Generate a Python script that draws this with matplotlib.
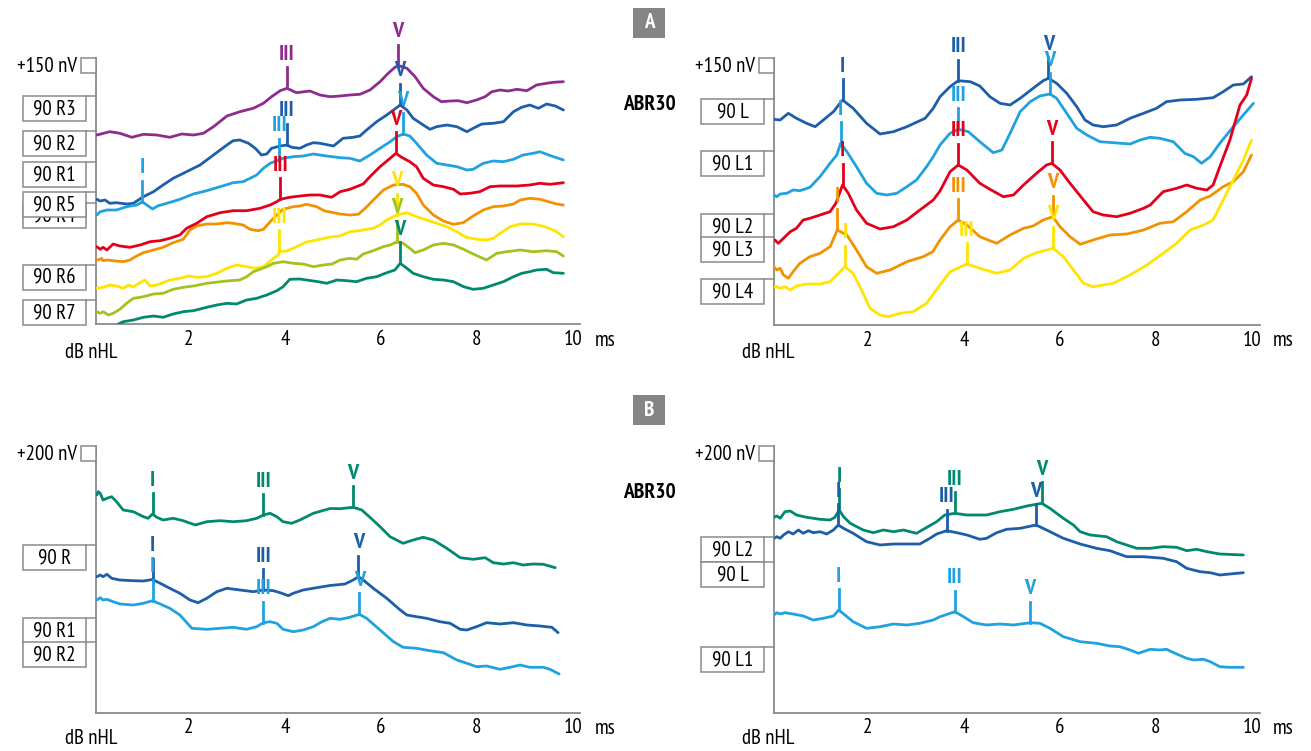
import numpy as np
import matplotlib
matplotlib.use("Agg")
import matplotlib.pyplot as plt
from matplotlib.patches import Rectangle
from matplotlib.transforms import blended_transform_factory

plt.rcParams['font.family'] = ['PT Sans Narrow', 'DejaVu Sans']

# ---------------------------------------------------------------- colours
PURPLE = '#8e2c8e'
DBLUE = '#1d5ea8'
LBLUE = '#1fa2df'
RED = '#e2001a'
ORANGE = '#f39200'
YELLOW = '#ffe400'
YGREEN = '#a2c31d'
TEAL = '#00896f'

# ================================================================ DATA
# latency in ms, amplitude (display offset included) in nV
# ---------------- Panel A, right ear
aR3_t = [0.08, 0.35, 0.56, 0.81, 1.05, 1.33, 1.60, 1.85, 2.09, 2.30, 2.51, 2.79, 3.06, 3.34, 3.55, 3.72, 3.90, 4.04, 4.24, 4.52,
         4.73, 4.94, 5.15, 5.35, 5.56, 5.77, 5.98, 6.15, 6.29, 6.36, 6.54, 6.71, 6.88, 7.09, 7.26, 7.44, 7.61, 7.79, 7.99, 8.17,
         8.31, 8.48, 8.65, 8.83, 9.04, 9.24, 9.45, 9.59, 9.80]
aR3_v = [1890, 1923, 1907, 1867, 1897, 1890, 1867, 1900, 1890, 1907, 1973, 2080, 2123, 2157, 2207, 2273, 2333, 2357, 2313, 2330,
         2290, 2273, 2280, 2290, 2297, 2340, 2423, 2507, 2567, 2585, 2557, 2473, 2357, 2273, 2223, 2230, 2233, 2213, 2240, 2273,
         2323, 2340, 2330, 2347, 2333, 2390, 2407, 2417, 2423]

aR2_t = [0.08, 0.15, 0.25, 0.35, 0.49, 0.70, 0.84, 1.05, 1.26, 1.46, 1.67, 1.95, 2.23, 2.51, 2.79, 2.92, 3.06, 3.24, 3.38, 3.51,
         3.62, 3.72, 3.90, 4.04, 4.14, 4.31, 4.45, 4.59, 4.73, 5.01, 5.21, 5.42, 5.56, 5.70, 5.91, 6.12, 6.26, 6.40, 6.54, 6.67,
         6.88, 7.02, 7.16, 7.37, 7.58, 7.79, 7.92, 8.10, 8.34, 8.55, 8.76, 8.93, 9.10, 9.28, 9.45, 9.63, 9.80]
aR2_v = [1247, 1230, 1240, 1207, 1213, 1200, 1207, 1273, 1323, 1390, 1457, 1523, 1590, 1690, 1790, 1833, 1840, 1807, 1757, 1690,
         1700, 1757, 1780, 1790, 1767, 1757, 1790, 1813, 1807, 1780, 1857, 1867, 1880, 1940, 2023, 2090, 2140, 2190, 2140, 2057,
         1990, 1947, 1973, 1990, 1973, 1923, 1957, 2000, 2007, 2023, 2123, 2167, 2190, 2157, 2200, 2180, 2140]

aR1_t = [0.08, 0.15, 0.29, 0.49, 0.70, 0.91, 1.03, 1.12, 1.24, 1.36, 1.54, 1.81, 2.09, 2.37, 2.65, 2.92, 3.13, 3.27, 3.41, 3.55,
         3.69, 3.83, 3.96, 4.17, 4.38, 4.59, 4.87, 5.15, 5.35, 5.56, 5.77, 5.98, 6.19, 6.33, 6.46, 6.60, 6.74, 6.95, 7.16, 7.37,
         7.58, 7.79, 7.92, 8.13, 8.34, 8.55, 8.76, 8.96, 9.17, 9.31, 9.49, 9.66, 9.80]
aR1_v = [1090, 1123, 1140, 1140, 1173, 1190, 1223, 1190, 1150, 1183, 1207, 1247, 1300, 1333, 1373, 1413, 1423, 1457, 1490, 1557,
         1607, 1633, 1657, 1673, 1680, 1700, 1680, 1663, 1657, 1630, 1690, 1757, 1823, 1873, 1900, 1880, 1807, 1690, 1607, 1590,
         1573, 1540, 1547, 1607, 1630, 1623, 1647, 1690, 1707, 1723, 1690, 1663, 1640]

aR5_t = [0.08, 0.15, 0.21, 0.29, 0.42, 0.56, 0.77, 0.98, 1.19, 1.40, 1.60, 1.81, 1.95, 2.16, 2.37, 2.65, 2.92, 3.20, 3.48, 3.69,
         3.83, 3.90, 4.10, 4.31, 4.52, 4.73, 4.97, 5.15, 5.35, 5.63, 5.77, 5.98, 6.19, 6.31, 6.43, 6.60, 6.74, 6.88, 7.09, 7.30,
         7.51, 7.65, 7.85, 8.06, 8.27, 8.48, 8.83, 9.10, 9.31, 9.52, 9.80]
aR5_v = [773, 747, 767, 740, 800, 780, 767, 790, 823, 833, 857, 890, 957, 1007, 1073, 1113, 1133, 1133, 1157, 1190,
         1223, 1247, 1267, 1280, 1290, 1290, 1267, 1323, 1347, 1400, 1473, 1573, 1657, 1707, 1667, 1623, 1573, 1457, 1390, 1373,
         1347, 1300, 1307, 1323, 1373, 1380, 1380, 1390, 1407, 1397, 1413]

aR4_t = [0.08, 0.15, 0.18, 0.21, 0.29, 0.42, 0.63, 0.77, 0.91, 1.05, 1.26, 1.46, 1.67, 1.88, 2.02, 2.16, 2.37, 2.58, 2.79, 2.92,
         3.13, 3.27, 3.44, 3.55, 3.69, 3.83, 3.96, 4.17, 4.31, 4.45, 4.66, 4.83, 5.15, 5.35, 5.53, 5.67, 5.84, 6.05, 6.26, 6.46,
         6.60, 6.74, 6.88, 7.09, 7.30, 7.51, 7.71, 7.92, 8.13, 8.34, 8.55, 8.76, 8.90, 9.10, 9.31, 9.49, 9.66, 9.80]
aR4_v = [640, 647, 657, 633, 640, 633, 623, 640, 680, 713, 740, 767, 813, 847, 940, 980, 1000, 1000, 1013, 1007,
         990, 947, 933, 947, 1023, 1090, 1147, 1173, 1180, 1197, 1173, 1130, 1100, 1090, 1097, 1157, 1240, 1340, 1390, 1397,
         1373, 1307, 1190, 1090, 1030, 997, 1013, 1080, 1140, 1173, 1180, 1200, 1240, 1257, 1247, 1223, 1200, 1190]

aR6_t = [0.08, 0.21, 0.35, 0.49, 0.63, 0.74, 0.84, 0.98, 1.08, 1.19, 1.33, 1.46, 1.60, 1.81, 1.99, 2.16, 2.37, 2.58, 2.79, 2.99,
         3.20, 3.38, 3.55, 3.72, 3.86, 3.88, 4.04, 4.24, 4.45, 4.66, 4.94, 5.15, 5.35, 5.56, 5.70, 5.84, 5.98, 6.12, 6.33, 6.54,
         6.74, 6.95, 7.16, 7.37, 7.58, 7.78, 7.99, 8.20, 8.34, 8.48, 8.69, 8.90, 9.17, 9.45, 9.66, 9.80]
aR6_v = [357, 367, 390, 380, 357, 390, 373, 413, 440, 380, 390, 413, 440, 457, 480, 467, 473, 507, 557, 590,
         573, 557, 573, 640, 690, 725, 730, 773, 820, 840, 870, 880, 923, 933, 947, 957, 990, 1040, 1090, 1113,
         1073, 1040, 1007, 973, 923, 867, 847, 840, 857, 907, 973, 1000, 1000, 967, 923, 873]

aR7_t = [0.08, 0.15, 0.21, 0.32, 0.42, 0.56, 0.70, 0.84, 1.05, 1.26, 1.46, 1.67, 1.88, 2.09, 2.37, 2.65, 2.85, 3.06, 3.20, 3.34,
         3.48, 3.62, 3.76, 3.96, 4.17, 4.38, 4.59, 4.80, 4.98, 5.15, 5.35, 5.49, 5.63, 5.84, 6.05, 6.19, 6.34, 6.46, 6.60, 6.71,
         6.88, 7.09, 7.30, 7.51, 7.72, 7.92, 8.20, 8.41, 8.62, 8.90, 9.17, 9.45, 9.66, 9.80]
aR7_v = [123, 107, 123, 90, 107, 147, 207, 257, 273, 300, 307, 347, 367, 380, 407, 423, 433, 440, 473, 523,
         547, 573, 607, 623, 607, 600, 573, 590, 600, 640, 657, 647, 700, 733, 773, 790, 823, 807, 757, 713,
         740, 790, 807, 790, 747, 700, 640, 707, 723, 740, 723, 733, 723, 680]

aR8_t = [0.53, 0.63, 0.84, 1.05, 1.26, 1.46, 1.67, 1.88, 2.09, 2.37, 2.58, 2.79, 2.99, 3.20, 3.41, 3.62, 3.83, 3.96, 4.10, 4.31,
         4.52, 4.73, 4.87, 5.08, 5.29, 5.49, 5.70, 5.91, 6.12, 6.29, 6.40, 6.54, 6.67, 6.88, 7.09, 7.30, 7.51, 7.72, 7.92, 8.13,
         8.34, 8.55, 8.76, 8.93, 9.10, 9.24, 9.45, 9.59, 9.80]
aR8_v = [0, 23, 40, 67, 80, 67, 100, 123, 133, 167, 190, 207, 200, 240, 257, 290, 333, 373, 447, 450,
         435, 420, 407, 440, 433, 423, 457, 473, 513, 540, 607, 557, 507, 473, 447, 440, 423, 373, 347, 357,
         390, 423, 473, 507, 523, 540, 547, 513, 507]

aR_labels = ['90 R3', '90 R2', '90 R1', '90 R4', '90 R5', '90 R6', '90 R7']
aR_levels = [2280, 1930, 1620, 1207, 1320, 590, 240]

# ---------------- Panel A, left ear
aL_t = [0.04, 0.17, 0.34, 0.51, 0.72, 0.90, 1.07, 1.28, 1.47, 1.69, 1.97, 2.25, 2.53, 2.81, 3.19, 3.36, 3.50, 3.71, 3.88, 4.13,
        4.33, 4.54, 4.75, 4.96, 5.17, 5.44, 5.65, 5.76, 5.93, 6.14, 6.35, 6.52, 6.69, 6.90, 7.18, 7.46, 7.74, 8.01, 8.22, 8.50,
        8.85, 9.19, 9.40, 9.61, 9.82, 9.99]
aL_v = [2057, 2050, 2117, 2067, 2017, 1983, 2050, 2133, 2250, 2167, 2017, 1910, 1933, 1983, 2067, 2167, 2283, 2383, 2443, 2433,
        2390, 2283, 2217, 2200, 2267, 2367, 2443, 2467, 2417, 2317, 2183, 2050, 2000, 1983, 2000, 2067, 2117, 2167, 2233, 2250,
        2257, 2273, 2333, 2400, 2410, 2483]

aL1_t = [0.04, 0.10, 0.17, 0.31, 0.44, 0.58, 0.79, 1.00, 1.21, 1.35, 1.43, 1.56, 1.76, 1.97, 2.18, 2.39, 2.60, 2.81, 3.01, 3.22,
         3.36, 3.50, 3.71, 3.88, 4.09, 4.33, 4.61, 4.79, 4.96, 5.17, 5.38, 5.58, 5.79, 5.93, 6.14, 6.35, 6.56, 6.83, 7.11, 7.46,
         7.67, 7.88, 8.08, 8.36, 8.60, 8.78, 8.95, 9.13, 9.33, 9.61, 9.82, 10.03]
aL1_v = [1300, 1283, 1310, 1317, 1350, 1343, 1377, 1483, 1617, 1700, 1817, 1733, 1583, 1417, 1317, 1300, 1317, 1383, 1450, 1583,
         1683, 1800, 1917, 1957, 1933, 1833, 1723, 1750, 1917, 2133, 2233, 2290, 2310, 2267, 2117, 1967, 1900, 1833, 1823, 1810,
         1850, 1877, 1867, 1833, 1717, 1683, 1617, 1683, 1817, 1983, 2100, 2217]

aL2_t = [0.06, 0.13, 0.24, 0.38, 0.51, 0.65, 0.79, 1.00, 1.21, 1.33, 1.47, 1.59, 1.76, 1.97, 2.25, 2.53, 2.81, 3.08, 3.36, 3.50,
         3.71, 3.88, 4.06, 4.33, 4.54, 4.82, 5.03, 5.24, 5.51, 5.72, 5.83, 6.00, 6.21, 6.49, 6.69, 6.90, 7.18, 7.46, 7.74, 7.88,
         8.15, 8.43, 8.64, 8.85, 9.06, 9.19, 9.33, 9.54, 9.75, 9.89, 9.99]
aL2_v = [850, 817, 867, 933, 967, 1050, 1067, 1100, 1133, 1217, 1400, 1317, 1150, 1017, 960, 983, 1050, 1150, 1250, 1340,
         1533, 1600, 1550, 1417, 1357, 1283, 1300, 1400, 1517, 1600, 1617, 1550, 1417, 1250, 1133, 1100, 1083, 1117, 1167, 1200,
         1333, 1367, 1400, 1367, 1350, 1400, 1583, 1850, 2200, 2300, 2467]

aL3_t = [0.04, 0.10, 0.17, 0.24, 0.34, 0.44, 0.58, 0.79, 1.00, 1.21, 1.36, 1.56, 1.76, 1.97, 2.18, 2.46, 2.81, 3.15, 3.35, 3.50,
         3.71, 3.88, 4.06, 4.33, 4.68, 4.96, 5.24, 5.44, 5.65, 5.85, 6.00, 6.21, 6.42, 6.69, 7.04, 7.39, 7.74, 8.08, 8.36, 8.64,
         8.92, 9.13, 9.40, 9.61, 9.82, 9.99]
aL3_v = [583, 550, 567, 500, 467, 533, 617, 683, 717, 783, 950, 900, 750, 583, 517, 550, 633, 683, 733, 850,
         983, 1050, 1000, 883, 817, 900, 967, 990, 1050, 1083, 983, 883, 807, 850, 900, 910, 950, 1017, 1033, 1133,
         1250, 1290, 1383, 1433, 1533, 1700]

aL4_t = [0.04, 0.10, 0.17, 0.27, 0.38, 0.51, 0.72, 1.00, 1.21, 1.35, 1.52, 1.69, 1.90, 2.04, 2.25, 2.42, 2.67, 2.94, 3.22, 3.50,
         3.71, 4.06, 4.33, 4.68, 4.96, 5.24, 5.51, 5.86, 6.07, 6.28, 6.49, 6.69, 7.11, 7.46, 7.81, 8.15, 8.43, 8.71, 8.99, 9.19,
         9.40, 9.61, 9.82, 9.99]
aL4_v = [377, 383, 367, 383, 350, 390, 410, 410, 433, 500, 583, 517, 317, 167, 100, 83, 117, 133, 217, 400,
         533, 610, 567, 517, 550, 667, 723, 767, 683, 550, 417, 383, 417, 500, 600, 717, 817, 950, 1000, 1050,
         1250, 1450, 1650, 1850]

aL_labels = ['90 L', '90 L1', '90 L2', '90 L3', '90 L4']
aL_levels = [2257, 1743, 1107, 883, 457]

# ---------------- Panel B, right ear
bR_t = [0.08, 0.11, 0.15, 0.21, 0.29, 0.39, 0.49, 0.63, 0.84, 1.05, 1.15, 1.24, 1.33, 1.46, 1.67, 1.88, 2.13, 2.37, 2.65, 2.92,
        3.20, 3.41, 3.55, 3.69, 3.83, 3.96, 4.14, 4.31, 4.59, 4.94, 5.15, 5.42, 5.60, 5.77, 5.98, 6.19, 6.46, 6.67, 6.88, 7.09,
        7.37, 7.65, 7.92, 8.17, 8.34, 8.55, 8.76, 8.96, 9.17, 9.38, 9.63]
bR_v = [2177, 2210, 2194, 2127, 2144, 2160, 2110, 2027, 2010, 1960, 1944, 1987, 1954, 1927, 1944, 1920, 1877, 1910, 1920, 1910,
        1920, 1944, 1977, 1994, 1960, 1910, 1894, 1927, 1994, 2042, 2040, 2054, 2027, 1954, 1860, 1760, 1694, 1727, 1754, 1727,
        1644, 1550, 1534, 1550, 1500, 1487, 1500, 1477, 1487, 1484, 1450]

bR1_t = [0.08, 0.15, 0.21, 0.29, 0.39, 0.56, 0.84, 1.05, 1.24, 1.40, 1.60, 1.81, 2.02, 2.19, 2.37, 2.58, 2.79, 3.06, 3.34, 3.55,
         3.76, 3.90, 4.07, 4.17, 4.38, 4.66, 4.94, 5.25, 5.42, 5.53, 5.63, 5.84, 6.12, 6.40, 6.54, 6.74, 6.95, 7.23, 7.44, 7.65,
         7.79, 7.99, 8.20, 8.48, 8.76, 9.04, 9.31, 9.56, 9.69]
bR1_v = [1360, 1377, 1360, 1384, 1344, 1327, 1320, 1317, 1332, 1294, 1244, 1194, 1127, 1100, 1144, 1210, 1244, 1227, 1210, 1227,
         1220, 1200, 1170, 1194, 1227, 1250, 1272, 1287, 1327, 1360, 1327, 1244, 1144, 1027, 977, 960, 944, 910, 894, 834,
         827, 860, 900, 887, 900, 877, 867, 854, 800]

bR2_t = [0.08, 0.15, 0.21, 0.29, 0.42, 0.56, 0.84, 1.05, 1.24, 1.40, 1.60, 1.81, 2.06, 2.37, 2.65, 2.92, 3.20, 3.41, 3.55, 3.69,
         3.83, 3.96, 4.17, 4.38, 4.59, 4.77, 4.94, 5.15, 5.35, 5.55, 5.70, 5.98, 6.26, 6.46, 6.74, 7.02, 7.30, 7.58, 7.79, 7.99,
         8.20, 8.48, 8.69, 8.90, 9.10, 9.38, 9.52, 9.71]
bR2_v = [1127, 1150, 1127, 1134, 1110, 1087, 1077, 1094, 1120, 1087, 1044, 977, 844, 834, 844, 854, 834, 860, 900, 910,
         894, 834, 810, 827, 860, 910, 944, 934, 954, 984, 944, 827, 710, 654, 644, 620, 600, 527, 494, 460,
         467, 434, 454, 477, 454, 454, 434, 387]

bR_labels = ['90 R', '90 R1', '90 R2']
bR_levels = [1677, 944, 704]

# ---------------- Panel B, left ear
bL2_t = [0.04, 0.10, 0.17, 0.27, 0.38, 0.51, 0.72, 1.00, 1.21, 1.31, 1.40, 1.49, 1.63, 1.90, 2.11, 2.32, 2.53, 2.74, 3.01, 3.22,
         3.43, 3.60, 3.81, 4.06, 4.47, 4.75, 5.03, 5.31, 5.62, 5.79, 6.07, 6.28, 6.42, 6.63, 6.97, 7.18, 7.39, 7.60, 7.88, 8.15,
         8.43, 8.64, 8.85, 9.06, 9.33, 9.82]
bL2_v = [1954, 1967, 1944, 2010, 2017, 1977, 1954, 1934, 1927, 1954, 2027, 1960, 1894, 1827, 1800, 1827, 1810, 1827, 1794, 1852,
         1910, 1977, 1994, 1977, 1977, 2010, 2034, 2067, 2094, 2044, 1944, 1877, 1810, 1777, 1760, 1710, 1677, 1644, 1644, 1660,
         1654, 1620, 1634, 1610, 1587, 1577]

bL_t = [0.04, 0.10, 0.17, 0.24, 0.34, 0.44, 0.55, 0.65, 0.76, 0.86, 1.00, 1.14, 1.28, 1.38, 1.49, 1.69, 1.97, 2.25, 2.53, 2.81,
        3.08, 3.29, 3.43, 3.64, 3.85, 4.06, 4.33, 4.47, 4.68, 4.89, 5.17, 5.50, 5.72, 6.07, 6.42, 6.76, 7.04, 7.39, 7.74, 8.15,
        8.43, 8.64, 8.92, 9.13, 9.33, 9.54, 9.82]
bL_v = [1744, 1760, 1744, 1777, 1810, 1787, 1827, 1794, 1820, 1800, 1810, 1787, 1827, 1877, 1844, 1794, 1710, 1677, 1687, 1687,
        1687, 1744, 1787, 1820, 1800, 1777, 1734, 1744, 1800, 1834, 1844, 1877, 1827, 1744, 1687, 1644, 1620, 1560, 1560, 1544,
        1510, 1444, 1410, 1400, 1377, 1387, 1400]

bL1_t = [0.04, 0.10, 0.17, 0.27, 0.44, 0.65, 0.86, 1.07, 1.28, 1.39, 1.52, 1.69, 1.97, 2.25, 2.53, 2.81, 3.08, 3.36, 3.50, 3.67,
         3.81, 3.99, 4.19, 4.47, 4.75, 5.03, 5.38, 5.58, 5.79, 6.07, 6.42, 6.76, 7.04, 7.25, 7.46, 7.63, 7.88, 8.08, 8.22, 8.43,
         8.64, 8.78, 8.99, 9.13, 9.33, 9.54, 9.82]
bL1_v = [977, 1000, 987, 1000, 987, 967, 927, 944, 967, 1027, 977, 910, 844, 860, 887, 877, 894, 927, 960, 987,
         1010, 960, 900, 877, 887, 877, 900, 894, 844, 760, 710, 694, 667, 660, 627, 594, 634, 627, 634, 587,
         544, 527, 534, 510, 460, 454, 454]

bL_labels = ['90 L2', '90 L', '90 L1']
bL_levels = [1754, 1504, 654]

# ---------------- wave peaks: (trace, latency ms, wave label)
aR_peaks = [('aR3', 4.04, 'III'), ('aR3', 6.36, 'V'),
            ('aR2', 4.04, 'III'), ('aR2', 6.40, 'V'),
            ('aR1', 1.03, 'I'), ('aR1', 3.88, 'III'), ('aR1', 6.46, 'V'),
            ('aR5', 3.90, 'III'), ('aR5', 6.31, 'V'),
            ('aR6', 3.88, 'III'), ('aR6', 6.33, 'V'),
            ('aR7', 6.34, 'V'),
            ('aR8', 6.40, 'V')]
aL_peaks = [('aL', 1.47, 'I'), ('aL', 3.88, 'III'), ('aL', 5.76, 'V'),
            ('aL1', 1.43, 'I'), ('aL1', 3.88, 'III'), ('aL1', 5.79, 'V'),
            ('aL2', 1.47, 'I'), ('aL2', 3.88, 'III'), ('aL2', 5.83, 'V'),
            ('aL3', 1.36, 'I'), ('aL3', 3.88, 'III'), ('aL3', 5.85, 'V'),
            ('aL4', 1.52, 'I'), ('aL4', 4.06, 'III'), ('aL4', 5.86, 'V')]
bR_peaks = [('bR', 1.24, 'I'), ('bR', 3.55, 'III'), ('bR', 5.42, 'V'),
            ('bR1', 1.24, 'I'), ('bR1', 3.55, 'III'), ('bR1', 5.53, 'V'),
            ('bR2', 1.24, 'I'), ('bR2', 3.55, 'III'), ('bR2', 5.55, 'V')]
bL_peaks = [('bL2', 1.40, 'I'), ('bL2', 3.81, 'III'), ('bL2', 5.62, 'V'),
            ('bL', 1.38, 'I'), ('bL', 3.64, 'III'), ('bL', 5.50, 'V'),
            ('bL1', 1.39, 'I'), ('bL1', 3.81, 'III'), ('bL1', 5.38, 'V')]

scale_A = '+150 nV'
scale_B = '+200 nV'
ms_ticks = [2, 4, 6, 8, 10]

# ================================================================ STYLE / LAYOUT
traces = {
    'aR3': (aR3_t, aR3_v, PURPLE), 'aR2': (aR2_t, aR2_v, DBLUE), 'aR1': (aR1_t, aR1_v, LBLUE),
    'aR5': (aR5_t, aR5_v, RED), 'aR4': (aR4_t, aR4_v, ORANGE), 'aR6': (aR6_t, aR6_v, YELLOW),
    'aR7': (aR7_t, aR7_v, YGREEN), 'aR8': (aR8_t, aR8_v, TEAL),
    'aL': (aL_t, aL_v, DBLUE), 'aL1': (aL1_t, aL1_v, LBLUE), 'aL2': (aL2_t, aL2_v, RED),
    'aL3': (aL3_t, aL3_v, ORANGE), 'aL4': (aL4_t, aL4_v, YELLOW),
    'bR': (bR_t, bR_v, TEAL), 'bR1': (bR1_t, bR1_v, DBLUE), 'bR2': (bR2_t, bR2_v, LBLUE),
    'bL2': (bL2_t, bL2_v, TEAL), 'bL': (bL_t, bL_v, DBLUE), 'bL1': (bL1_t, bL1_v, LBLUE),
}

W, H = 1311, 751
GRAY = '#8a8a8a'
FS = 15
FS_PEAK = 16

fig = plt.figure(figsize=(W / 100, H / 100), dpi=100)


def px_axes(left, top, right, bottom):
    return fig.add_axes([left / W, 1 - bottom / H, (right - left) / W, (bottom - top) / H])


def setup_panel(box, xlim, ylim, keys, peaks, labels, levels, scale_txt):
    left, top, right, bottom = box
    ax = px_axes(left, top, right, bottom)
    axw, axh = right - left, bottom - top
    ax.set_xlim(*xlim)
    ax.set_ylim(*ylim)
    for s in ('top', 'right'):
        ax.spines[s].set_visible(False)
    for s in ('left', 'bottom'):
        ax.spines[s].set_color(GRAY)
        ax.spines[s].set_linewidth(1.3)
    ax.set_yticks([])
    ax.set_xticks(ms_ticks)
    ax.set_xticklabels([str(v) for v in ms_ticks], fontsize=FS)
    ax.tick_params(axis='x', length=0, pad=4)

    for k in keys:
        t, v, c = traces[k]
        ax.plot(t, v, color=c, lw=2.0, solid_joinstyle='round', solid_capstyle='round', zorder=3)

    dy = ylim[1] - ylim[0]
    unit = dy / axh  # data units per pixel
    for k, lat, lab in peaks:
        t, v, c = traces[k]
        y = float(np.interp(lat, t, v))
        ax.plot([lat, lat], [y, y + 21 * unit], color=c, lw=2.0, clip_on=False, zorder=4)
        ax.text(lat, y + 34 * unit, lab, color=c, fontsize=FS_PEAK, fontweight='bold',
                ha='center', va='center', clip_on=False, zorder=5)

    tr = blended_transform_factory(ax.transAxes, ax.transData)
    bw, gap = 63 / axw, 10 / axw
    bh = 25 * unit
    for i, (lab, lev) in enumerate(zip(labels, levels)):
        z = 10 + 2 * i
        ax.add_patch(Rectangle((-(bw + gap), lev - bh), bw, bh, transform=tr, facecolor='white',
                               edgecolor=GRAY, lw=1.1, clip_on=False, zorder=z))
        ax.plot([-gap, 0], [lev, lev], transform=tr, color=GRAY, lw=1.1, clip_on=False, zorder=z)
        ax.text(-(gap + bw / 2), lev - bh / 2 - 0.5 * unit, lab, transform=tr, ha='center', va='center',
                fontsize=FS, zorder=z + 1, clip_on=False)

    ax.add_patch(Rectangle((-15 / axw, 1 - 15 / axh), 15 / axw, 15 / axh, transform=ax.transAxes,
                           facecolor='white', edgecolor=GRAY, lw=1.1, clip_on=False, zorder=6))
    ax.text(-19 / axw, 1 - 8 / axh, scale_txt, transform=ax.transAxes, ha='right', va='center',
            fontsize=FS, clip_on=False)
    return ax


axA_R = setup_panel((96, 58, 580, 324.5), (0.0625, 10.146), (-5, 2660),
                    ['aR3', 'aR2', 'aR1', 'aR4', 'aR5', 'aR6', 'aR7', 'aR8'], aR_peaks, aR_labels, aR_levels, scale_A)
axA_L = setup_panel((774, 58, 1260, 325), (0.0417, 10.167), (0, 2670),
                    ['aL', 'aL1', 'aL2', 'aL3', 'aL4'], aL_peaks, aL_labels, aL_levels, scale_A)
axB_R = setup_panel((96, 446, 580, 712.7), (0.0625, 10.146), (0, 2667),
                    ['bR', 'bR1', 'bR2'], bR_peaks, bR_labels, bR_levels, scale_B)
axB_L = setup_panel((774, 446, 1260, 712.7), (0.0417, 10.167), (0, 2667),
                    ['bL2', 'bL', 'bL1'], bL_peaks, bL_labels, bL_levels, scale_B)


def ftext(x, y, s, **kw):
    fig.text(x / W, 1 - y / H, s, **kw)


for (xd, yd), (xm, ym) in [((91, 352), (605, 341)), ((768, 352), (1283, 341)),
                           ((91, 738), (605, 729)), ((768, 738), (1283, 729))]:
    ftext(xd, yd, 'dB nHL', fontsize=FS, ha='center', va='center')
    ftext(xm, ym, 'ms', fontsize=FS, ha='center', va='center')

ftext(649, 104, 'ABR30', fontsize=15.5, fontweight='bold', ha='center', va='center')
ftext(649, 493, 'ABR30', fontsize=15.5, fontweight='bold', ha='center', va='center')

for letter, ytop in [('A', 8), ('B', 395)]:
    fig.patches.append(Rectangle((633 / W, 1 - (ytop + 30) / H), 32 / W, 30 / H, transform=fig.transFigure,
                                 facecolor='#858585', edgecolor='none'))
    ftext(649, ytop + 15, letter, fontsize=15, fontweight='bold', color='white', ha='center', va='center')

fig.savefig('out.png', dpi=100)
